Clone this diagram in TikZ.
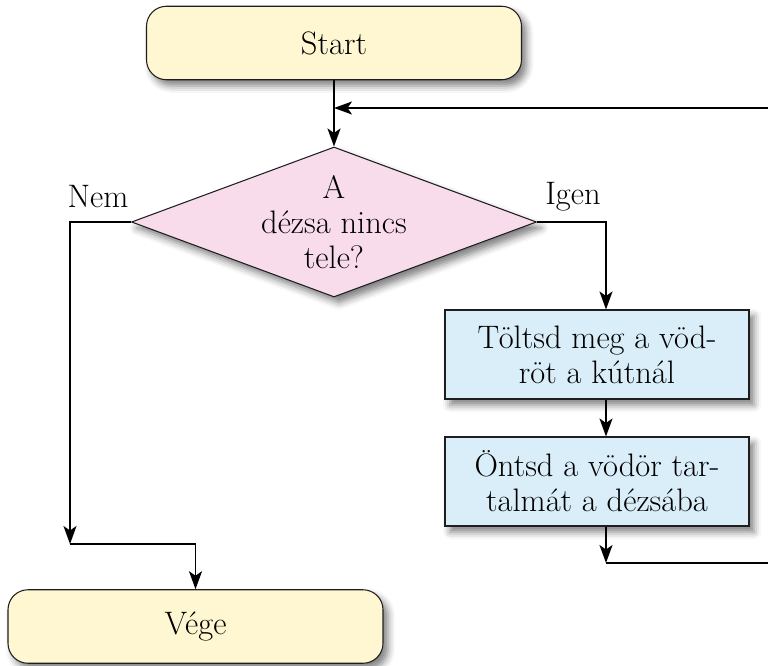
\documentclass[tikz,border=0pt]{standalone}
\usepackage{xcolor}
\usepackage{tikz}
\usetikzlibrary{shapes.geometric,arrows.meta,positioning,calc,shadows.blur}
\definecolor{fcsarga}{HTML}{FFF7D1}
\definecolor{fcrozsa}{HTML}{F9DCEC}
\definecolor{fckek}{HTML}{DAEEFA}
\definecolor{fcvonal}{HTML}{1E1E1E}

\begin{document}
\begin{tikzpicture}[every node/.style={font=\fontsize{18.5}{20}\selectfont},
  arnyek/.style={blur shadow={shadow xshift=0.1cm,shadow yshift=-0.12cm,shadow blur radius=0.14cm,shadow opacity=50}},
  hatar/.style={draw=fcvonal,line width=0.6pt,fill=fcsarga,rounded corners=0.4cm,minimum width=7.5cm,minimum height=1.47cm,arnyek},
  dontes/.style={diamond,draw=fcvonal,line width=0.6pt,fill=fcrozsa,inner sep=0pt,aspect=2.7,minimum width=8.1cm,minimum height=3cm,align=center,arnyek},
  lepes/.style={draw=fcvonal,line width=0.6pt,fill=fckek,minimum width=6.08cm,minimum height=1.78cm,align=center,arnyek},
  vonal/.style={line width=1.1pt},
  nyil/.style={vonal,-{Stealth[length=3.6mm,width=2.6mm,inset=0.9mm]}}]
  \useasboundingbox (0,0) rectangle (15.36,-13.3);
  % start es vege
  \node[hatar] (start) at (6.68,-0.86){Start};
  \node[hatar] (vege) at (3.91,-12.53){Vége};
  % feltetel
  \node[dontes] (dezsa) at (6.68,-4.44){A\\dézsa nincs\\tele?};
  \node (nem) at (1.96,-3.94){Nem};
  \node (igen) at (11.46,-3.94){Igen};
  % a ket lepes
  \node[lepes] (tolt) at (11.94,-7.09){Töltsd meg a vöd-\\röt a kútnál};
  \node[lepes] (ont) at (11.94,-9.63){Öntsd a vödör tar-\\talmát a dézsába};
  % segedpontok
  \coordinate (vissza) at (6.68,-2.16);
  \coordinate (igenpont) at (12.12,-4.44);
  \coordinate (nempont) at (1.4,-4.44);
  \coordinate (nemvege) at (1.4,-10.88);
  \coordinate (ontvege) at (12.12,-11.26);
  % nyilak
  \draw[nyil] (start) -- (dezsa.north);
  \draw[nyil] (dezsa.east) -- (igenpont) -- (igenpont |- tolt.north);
  \draw[nyil] (igenpont |- tolt.south) -- (igenpont |- ont.north);
  \draw[nyil] (igenpont |- ont.south) -- (ontvege);
  % ciklus vissza a feltetelhez
  \draw[nyil] (ontvege) -- ++(4,0) |- (vissza);
  \draw[nyil] (dezsa.west) -- (nempont) -- (nemvege);
  \draw[nyil] (nemvege) -| (vege.north);
\end{tikzpicture}
\end{document}
